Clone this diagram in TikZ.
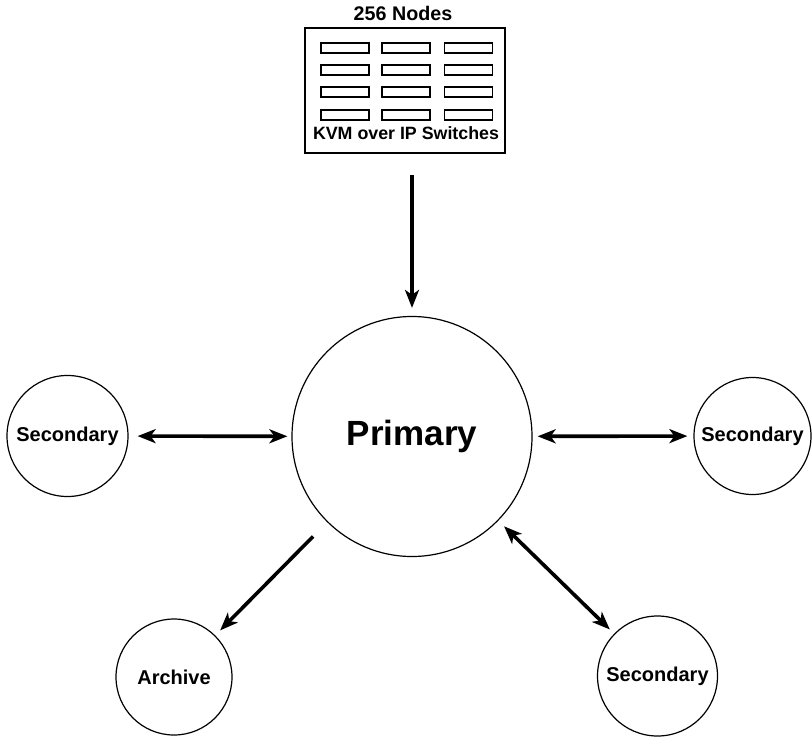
\documentclass[tikz,border=0pt]{standalone}
\usepackage{fontspec}
\setmainfont{Liberation Sans}
\usetikzlibrary{arrows.meta}
\begin{document}
\begin{tikzpicture}[x=0.5pt,y=-0.5pt,
  >={Stealth[length=9pt,width=7pt,inset=2.5pt]},
  site/.style={draw,circle,line width=0.6pt,inner sep=0pt,font=\bfseries\fontsize{10}{12}\selectfont},
  link/.style={line width=1.8pt},
  slot/.style={draw,line width=0.6pt}]
\useasboundingbox (0,0) rectangle (812,737);
% KVM switch box
\node[draw,line width=0.75pt,minimum width=100pt,minimum height=62.5pt,inner sep=0pt] (kvm) at (405,90.5) {};
\foreach \x in {345,406,468.5}
  \foreach \y in {48,70,92,115}
    \draw[slot] (\x-24,\y-5) rectangle (\x+24,\y+5);
\node[font=\bfseries\fontsize{8.9}{11}\selectfont] (kvmtext) at (406,133.5) {KVM over IP Switches};
\node[font=\bfseries\fontsize{9.85}{12}\selectfont] (count) at (403,13) {256 Nodes};
% Sites
\node[site,minimum size=120pt,font=\bfseries\fontsize{17.5}{21}\selectfont] (prim) at (412,436.5) {Primary};
\node[site,minimum size=60.5pt] (secw) at (67.5,436) {Secondary};
\node[site,minimum size=58.5pt] (sece) at (752.5,436) {Secondary};
\node[site,minimum size=58pt] (arch) at (174,677) {Archive};
\node[site,minimum size=60pt] (secs) at (657.5,676) {Secondary};
% Arrows
\draw[link,->,shorten <=10.5pt,shorten >=4pt] (kvm.south -| prim.north) -- (prim.north);
\draw[link,<->,shorten <=4.5pt,shorten >=2pt] (secw) -- (prim);
\draw[link,<->,shorten <=2.5pt,shorten >=3pt] (prim) -- (sece);
\draw[link,->,shorten <=10pt,shorten >=3.5pt] (prim) -- (arch);
\draw[link,<->,shorten <=4pt,shorten >=3pt] (prim) -- (secs);
\end{tikzpicture}
\end{document}
